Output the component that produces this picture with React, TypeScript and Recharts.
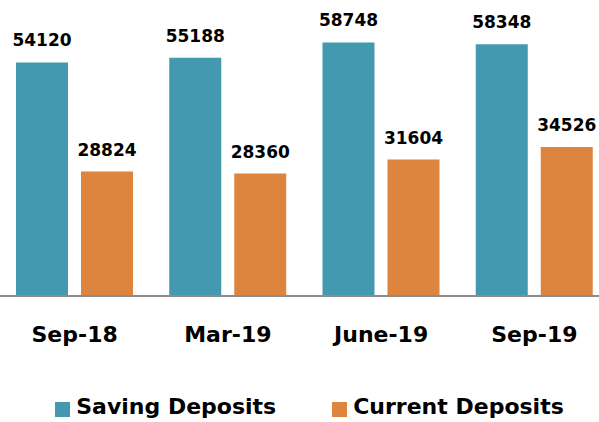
import React from 'react';
import { BarChart, Bar, XAxis, YAxis, LabelList } from 'recharts';

const periods = ['Sep-18', 'Mar-19', 'June-19', 'Sep-19'];
const savingDeposits = [54120, 55188, 58748, 58348];
const currentDeposits = [28824, 28360, 31604, 34526];

const TEAL = '#4299B0';
const ORANGE = '#DD843E';
const FONT = '"DejaVu Sans", sans-serif';

const data = periods.map((p, i) => ({
  period: p,
  saving: savingDeposits[i],
  current: currentDeposits[i],
}));

const PeriodTick = (props: any) => {
  const { x, y, payload } = props;
  return (
    <text x={x} y={y + 38} textAnchor="middle" fontFamily={FONT} fontWeight="bold" fontSize={22} fill="#000">
      {payload.value}
    </text>
  );
};

const legendItems = [
  { name: 'Saving Deposits', color: TEAL },
  { name: 'Current Deposits', color: ORANGE },
];

export default function App() {
  return (
    <div style={{ position: 'absolute', left: 0, top: 0, width: 599, height: 422, overflow: 'hidden', background: '#fff' }}>
      <div style={{ position: 'absolute', left: -2, top: 0 }}>
        <BarChart
          width={613}
          height={422}
          data={data}
          margin={{ top: 37, right: 0, bottom: 76, left: 0 }}
          barSize={52}
          barGap={13}
        >
          <XAxis
            dataKey="period"
            axisLine={{ stroke: '#8c8c8c', strokeWidth: 2 }}
            tickLine={false}
            height={50}
            tick={<PeriodTick />}
            interval={0}
          />
          <YAxis hide domain={[0, 60000]} />
          <Bar dataKey="saving" fill={TEAL} isAnimationActive={false}>
            <LabelList dataKey="saving" position="top" offset={16} fontFamily={FONT} fontWeight="bold" fontSize={17} fill="#000" />
          </Bar>
          <Bar dataKey="current" fill={ORANGE} isAnimationActive={false}>
            <LabelList dataKey="current" position="top" offset={16} fontFamily={FONT} fontWeight="bold" fontSize={17} fill="#000" />
          </Bar>
        </BarChart>
      </div>
      <div
        style={{
          position: 'absolute',
          left: 10,
          width: 599,
          top: 394,
          display: 'flex',
          justifyContent: 'center',
          gap: 56,
          fontFamily: FONT,
          fontWeight: 'bold',
          fontSize: 22,
          lineHeight: '26px',
          color: '#000',
        }}
      >
        {legendItems.map((it) => (
          <div key={it.name} style={{ display: 'flex', alignItems: 'center' }}>
            <span style={{ display: 'inline-block', width: 15, height: 15, background: it.color, marginRight: 6, marginTop: 4 }} />
            <span>{it.name}</span>
          </div>
        ))}
      </div>
    </div>
  );
}
